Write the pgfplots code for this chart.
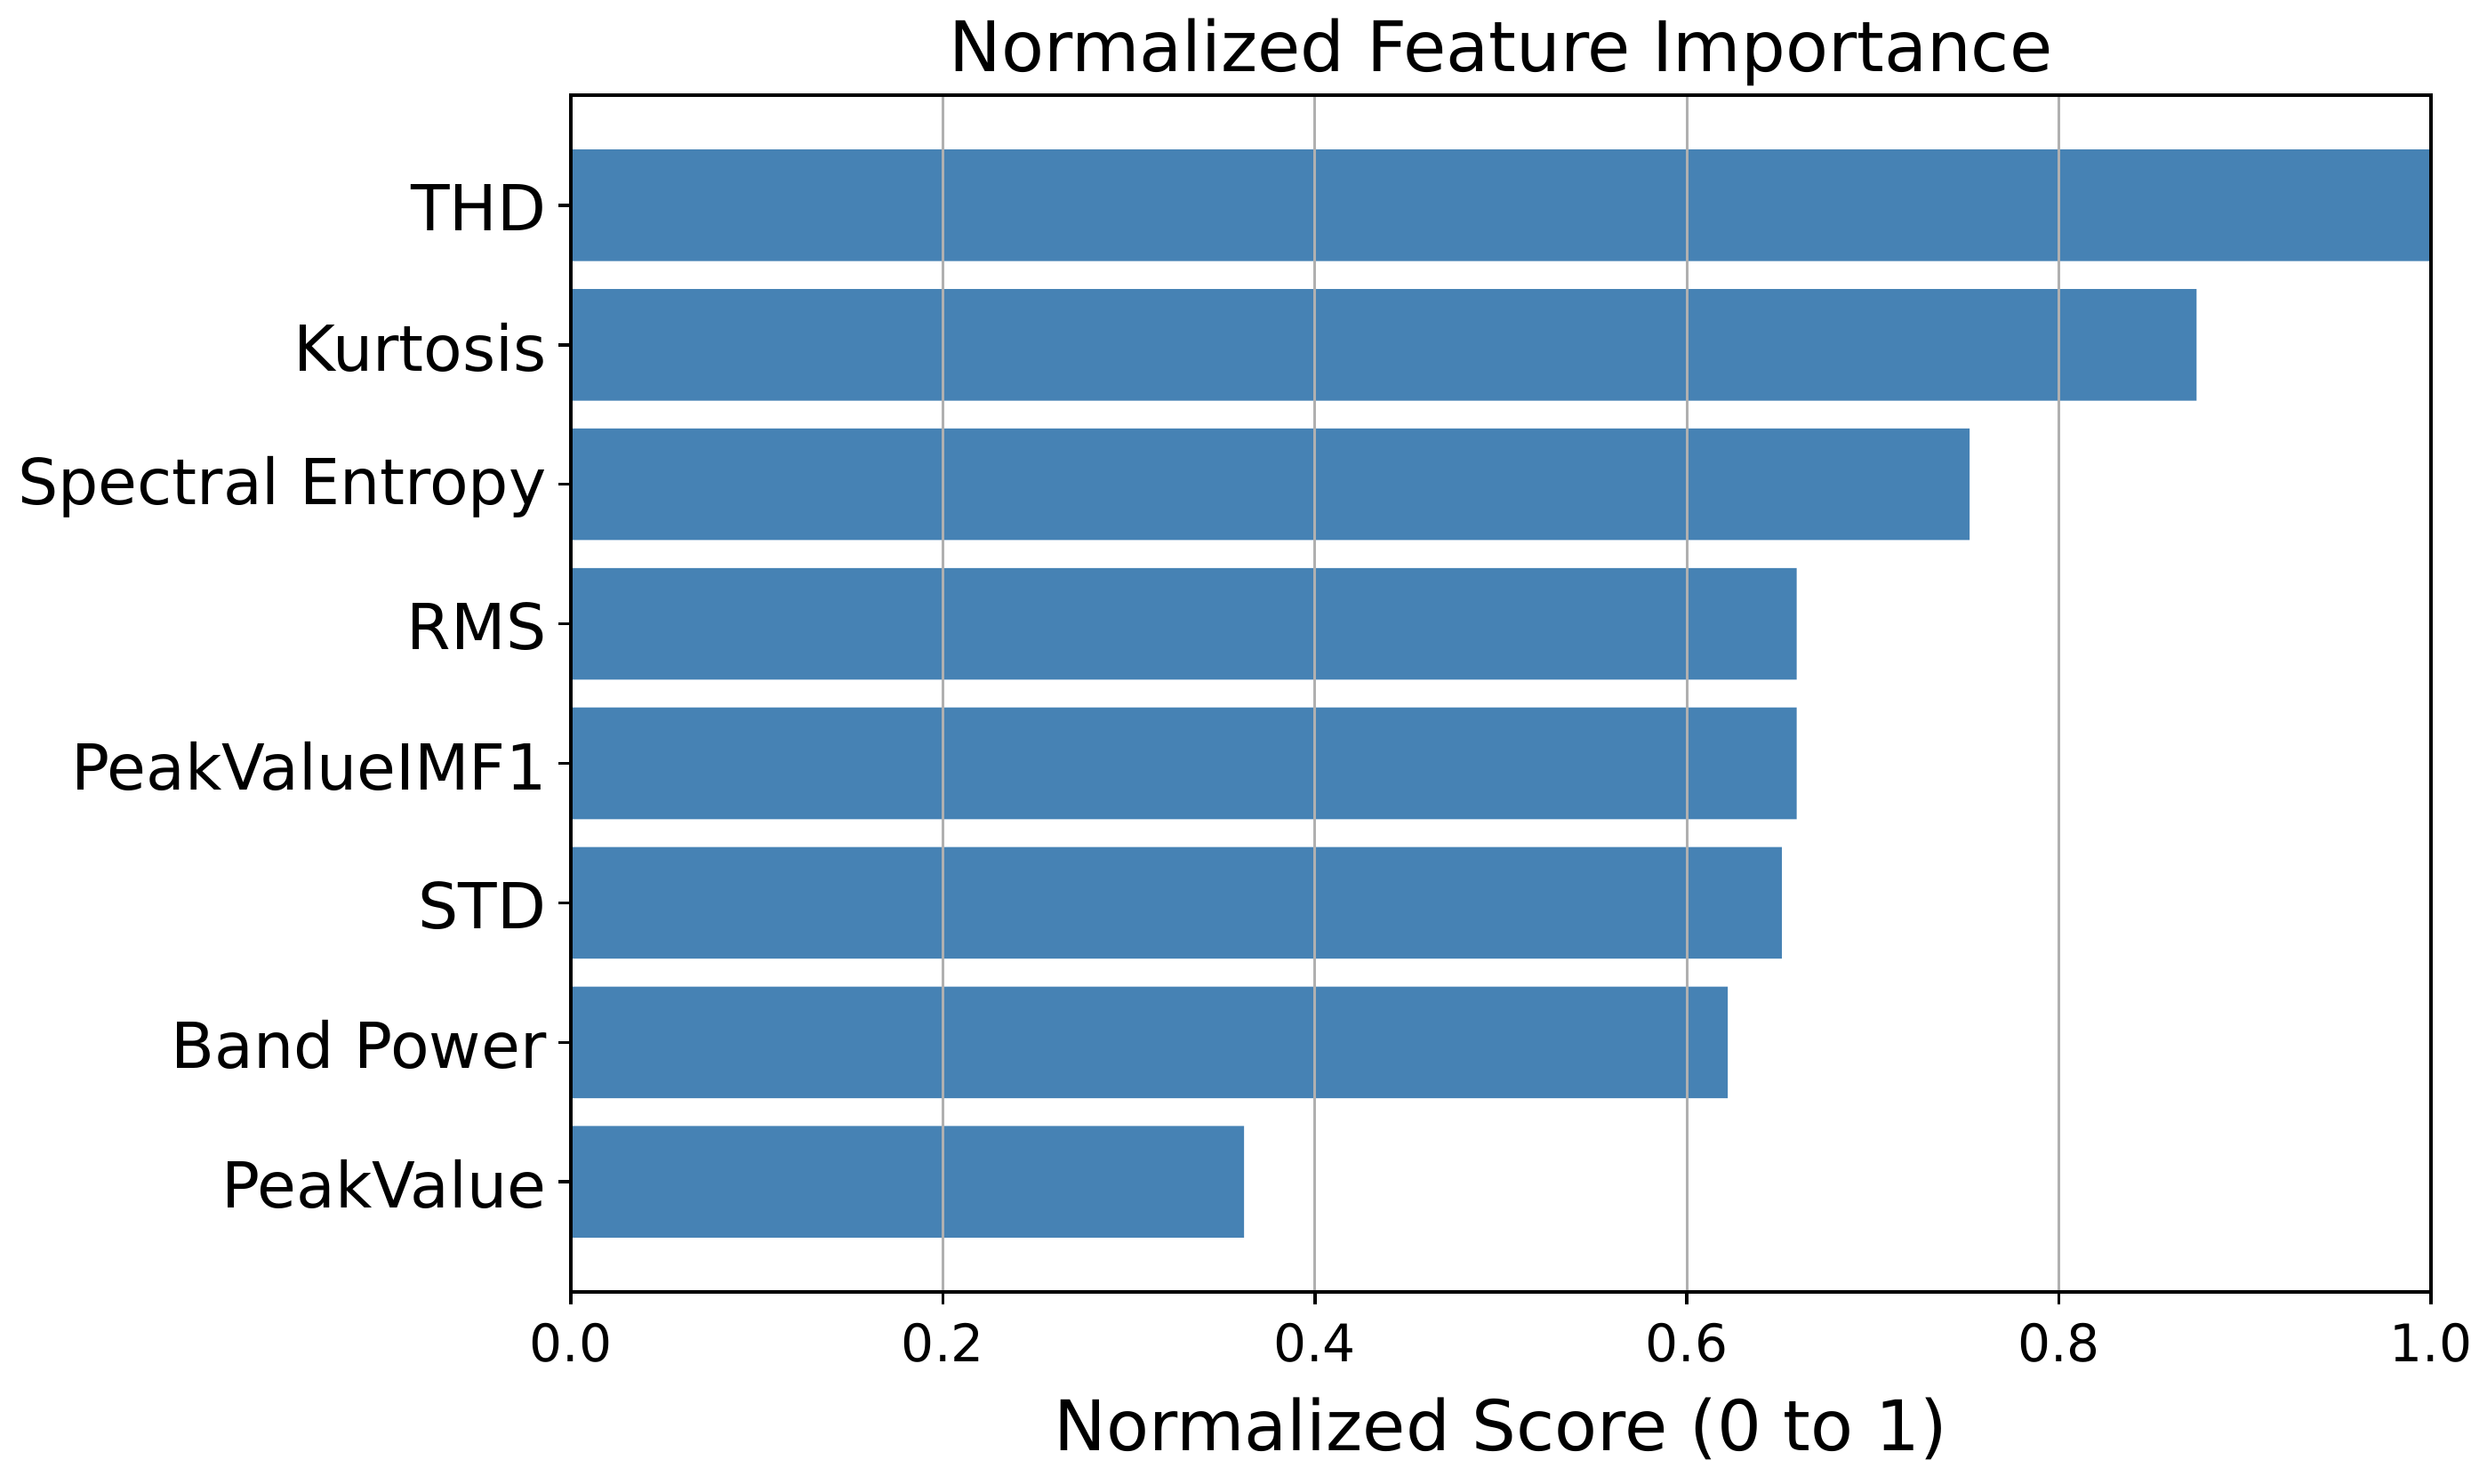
\documentclass[border=0pt]{standalone}
\usepackage{fontspec}
\setmainfont{DejaVu Sans}
\usepackage{pgfplots}
\pgfplotsset{compat=1.18}
\definecolor{steelblue}{HTML}{4682B4}
\definecolor{gridgray}{HTML}{B0B0B0}
\begin{document}
\begin{tikzpicture}
\path[use as bounding box] (-108pt,-36.3pt) rectangle (362.6pt,244.5pt);
\begin{axis}[
  at={(0,0)}, anchor=south west,
  scale only axis,
  width=352pt, height=226.5pt,
  xbar, bar width=0.8,
  xmin=0, xmax=1, ymin=-0.79, ymax=7.79,
  xtick={0,0.2,0.4,0.6,0.8,1.0},
  xticklabels={0.0,0.2,0.4,0.6,0.8,1.0},
  ytick={0,1,2,3,4,5,6,7},
  yticklabels={PeakValue,Band Power,STD,PeakValueIMF1,RMS,Spectral Entropy,Kurtosis,THD},
  /pgf/number format/assume math mode=true,
  tick align=outside, major tick length=2.3pt,
  tick style={black, line width=0.6pt},
  xtick pos=bottom, ytick pos=left,
  axis line style={line width=0.7pt},
  xmajorgrids, major grid style={gridgray, line width=0.5pt},
  axis on top,
  ticklabel style={font=\fontsize{9.8}{11}\selectfont},
  yticklabel style={font=\fontsize{12}{14}\selectfont, xshift=1.2pt, yshift=-0.5pt},
  xlabel={Normalized Score (0 to 1)},
  xlabel style={font=\fontsize{13.2}{15}\selectfont, at={(0.5,0)}, anchor=base, yshift=-30pt},
  title={Normalized Feature Importance},
  title style={font=\fontsize{13.2}{15}\selectfont, at={(0.5,1)}, anchor=base, yshift=-1.5pt},
]
\addplot[fill=steelblue, draw=none] coordinates {
  (0.362,0) (0.622,1) (0.651,2) (0.659,3) (0.659,4) (0.752,5) (0.874,6) (1.0,7)
};
\end{axis}
\end{tikzpicture}
\end{document}
